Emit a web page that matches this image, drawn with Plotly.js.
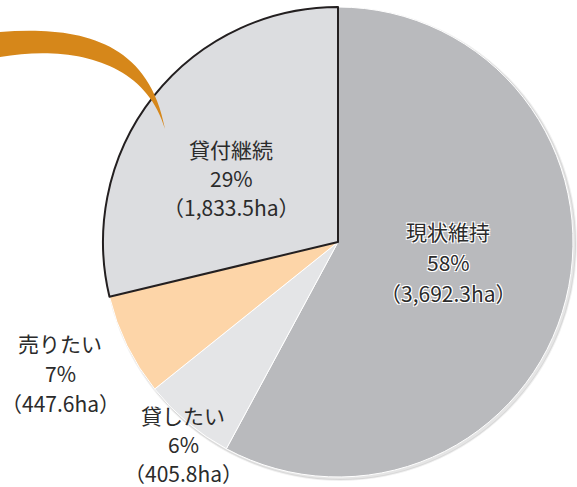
<!DOCTYPE html>
<html>
<head>
<meta charset="utf-8">
<script src="https://cdn.plot.ly/plotly-3.0.1.min.js"></script>
<style>html,body{margin:0;padding:0;background:#fff;}#chart{width:577px;height:487px;}</style>
</head>
<body>
<div id="chart"></div>
<script>
const categories = ['現状維持', '貸したい', '売りたい', '貸付継続'];
const percents = [58, 6, 7, 29];
const areas = ['3,692.3', '405.8', '447.6', '1,833.5'];
const areaValues = [3692.3, 405.8, 447.6, 1833.5];
const sliceColors = ['#b9babd', '#e4e5e7', '#fdd5a8', '#dcdde0'];
const lineColors = ['#ffffff', '#ffffff', '#ffffff', '#231f20'];
const lineWidths = [1, 1, 1, 2];

const W = 577, H = 487;
const px = (x) => x / W;
const py = (y) => 1 - y / H;

// label anchor positions (pixels: centre of the middle line) for each category
const labelPx = [448, 183, 60, 231];
const labelPy = [262, 444, 373, 178];
const lineGapPx = [31, 29, 30, 29];

const annotations = [];
categories.forEach((c, i) => {
  const lines = [c, percents[i] + '%', '（' + areas[i] + 'ha）'];
  lines.forEach((t, k) => {
    const font = {family: '"Noto Sans CJK JP", "Noto Sans", sans-serif', size: 21, color: '#2b2b2b'};
    if (i === 0) {
      font.shadow = '1px 1px 0 #fff, -1px -1px 0 #fff, 1px -1px 0 #fff, -1px 1px 0 #fff';
    }
    annotations.push({
      text: t, xref: 'paper', yref: 'paper',
      x: px(labelPx[i]), y: py(labelPy[i] + (k - 1) * lineGapPx[i]),
      xanchor: 'center', yanchor: 'middle', showarrow: false, font: font
    });
  });
});

// orange swoosh (decorative pointer)
const P = (x, y) => px(x).toFixed(4) + ',' + py(y).toFixed(4);
const swoosh = 'M' + P(0, 32) + ' C' + P(70, 27) + ' ' + P(148, 35) + ' ' + P(165, 129) +
  ' C' + P(145, 60) + ' ' + P(70, 45) + ' ' + P(0, 57) + ' Z';

const cx = 338, cy = 242, r = 235;
const trace = {
  type: 'pie',
  labels: categories,
  values: areaValues,
  sort: false,
  direction: 'clockwise',
  rotation: 0,
  textinfo: 'none',
  hoverinfo: 'label+percent',
  marker: {colors: sliceColors, line: {color: lineColors, width: lineWidths}},
  domain: {x: [(cx - r) / W, (cx + r) / W], y: [(H - cy - r) / H, (H - cy + r) / H]},
  showlegend: false
};

const layout = {
  width: W, height: H,
  margin: {l: 0, r: 0, t: 0, b: 0},
  paper_bgcolor: '#ffffff',
  showlegend: false,
  annotations: annotations,
  shapes: [
    {type: 'circle', xref: 'paper', yref: 'paper',
     x0: px(cx - r + 1), x1: px(cx + r + 3), y0: py(cy + r + 3), y1: py(cy - r + 1),
     fillcolor: 'rgba(0,0,0,0.10)', line: {color: 'rgba(0,0,0,0.06)', width: 2}, layer: 'below'},
    {type: 'path', path: swoosh, xref: 'paper', yref: 'paper', fillcolor: '#d6871a', line: {width: 0}, layer: 'above'}
  ]
};

Plotly.newPlot('chart', [trace], layout, {displayModeBar: false, staticPlot: true});
</script>
</body>
</html>
